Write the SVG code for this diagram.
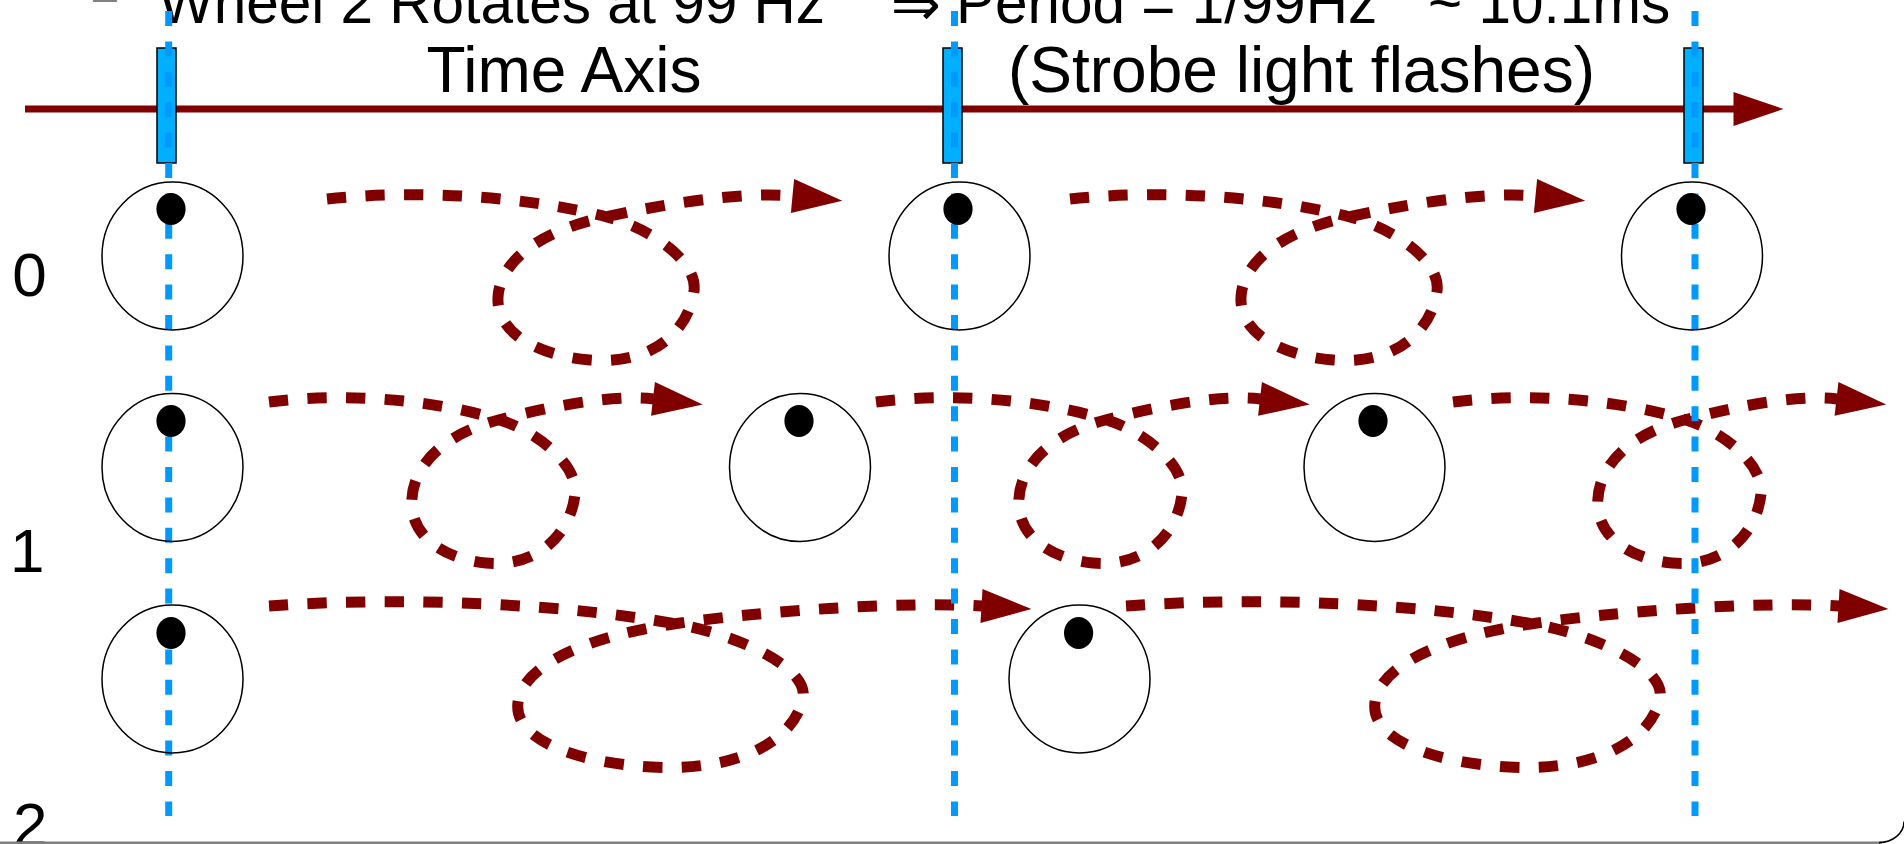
<svg xmlns="http://www.w3.org/2000/svg" width="1904" height="844" viewBox="0 0 1904 844">
  <defs>
    <style>
      .txt { font-family: "Liberation Sans", Arial, sans-serif; fill: #000; }
      .title { font-size: 58.5px; }
      .head { font-size: 64px; }
      .lbl { font-size: 62px; }
      .wheel { fill: none; stroke: #000; stroke-width: 1.5; }
      .dot { fill: #000; }
      .flow { fill: none; stroke: #800000; stroke-width: 11; stroke-dasharray: 19.3 19.3; marker-end: url(#arr); }
      .axis { fill: none; stroke: #800000; stroke-width: 7; marker-end: url(#arr); }
      .strobe { fill: none; stroke: #0099ff; stroke-width: 7; stroke-dasharray: 15 15.4; }
      .flash { fill: #00b0ff; stroke: #000; stroke-width: 1.5; }
    </style>
    <marker id="arr" markerUnits="userSpaceOnUse" markerWidth="52" markerHeight="34" refX="0.5" refY="17" orient="auto" overflow="visible">
      <path d="M0,0 L50,17 L0,34 Z" fill="#800000"/>
    </marker>
  </defs>

  <rect width="1904" height="844" fill="#fff"/>

  <!-- heading line (top clipped by the frame) -->
  <g id="heading">
    <text class="txt" x="93" y="10.5" font-size="43" style="fill:#808080">–</text>
    <text class="txt title" x="158.5" y="23">Wheel 2 Rotates at 99 Hz</text>
    <text x="916" y="25" font-family="DejaVu Sans, sans-serif" font-size="60" text-anchor="middle">⇒</text>
    <text class="txt title" x="956" y="23">Period = 1/99Hz</text>
    <text class="txt title" x="1428" y="23">~ 10.1ms</text>
  </g>

  <!-- time axis -->
  <g id="time-axis">
    <line class="axis" x1="25" y1="109" x2="1734" y2="109"/>
    <text class="txt head" x="426.5" y="92">Time Axis</text>
    <text class="txt head" x="1008" y="92">(Strobe light flashes)</text>
  </g>

  <!-- wheel motion between flashes -->
  <g id="connectors">
    <path id="c0a" class="flow" d="M327 199 C420 189,530 197,607 217 C650 228,698 261,694 291 C689 329,655 365,590 360 C540 356,496 334,498 297 C500 261,540 231,605 217 C660 205,740 191,793 196"/>
    <path id="c0b" class="flow" d="M1070 199 C1163 189,1273 197,1350 217 C1393 228,1441 261,1437 291 C1432 329,1398 365,1333 360 C1283 356,1239 334,1241 297 C1243 261,1283 231,1348 217 C1403 205,1483 191,1536 196"/>
    <path id="c1a" class="flow" d="M269 402 C345.7 392,436.5 400,500 420 C535.5 431,578.4 464,575 494 C571 532,539.6 568,486 563 C444.7 559,410 537,411.8 500 C413.4 464,444.7 434,498.4 420 C543.7 408,609.7 394,653.5 399"/>
    <path id="c1b" class="flow" d="M876 402 C952.7 392,1043.5 400,1107 420 C1142.5 431,1185.4 464,1182 494 C1178 532,1146.6 568,1093 563 C1051.7 559,1017 537,1018.8 500 C1020.4 464,1051.7 434,1105.4 420 C1150.7 408,1216.7 394,1260.5 399"/>
    <path id="c1c" class="flow" d="M1453 402 C1529.7 392,1621.5 400,1686 420 C1721.5 431,1764.4 464,1761 494 C1757 532,1725.6 568,1672 563 C1630.7 559,1596 537,1597.8 500 C1599.4 464,1630.7 434,1684.4 420 C1729.7 408,1793.2 394,1837 399"/>
    <path id="c2a" class="flow" d="M269 606 C404.3 596,564.4 604,676.4 624 C739 635,808.8 668,803 698 C795.7 736,746.2 772,651.7 767 C578.9 763,514.9 741,517.8 704 C520.7 668,578.9 638,673.5 624 C753.5 612,899 601,982 606"/>
    <path id="c2b" class="flow" d="M1126 606 C1261.3 596,1421.4 604,1533.4 624 C1596 635,1665.8 668,1660 698 C1652.7 736,1603.2 772,1508.7 767 C1435.9 763,1371.9 741,1374.8 704 C1377.7 668,1435.9 638,1530.5 624 C1610.5 612,1756 601,1839 606"/>
  </g>

  <!-- strobe flashes -->
  <g id="flash-1">
    <rect class="flash" x="157" y="48" width="19" height="115"/>
    <line class="strobe" x1="168.7" y1="11" x2="168.7" y2="816"/>
  </g>
  <g id="flash-2">
    <rect class="flash" x="943" y="48" width="19" height="115"/>
    <line class="strobe" x1="954.5" y1="11" x2="954.5" y2="816"/>
  </g>
  <g id="flash-3">
    <rect class="flash" x="1684" y="48" width="19" height="115"/>
    <line class="strobe" x1="1695" y1="11" x2="1695" y2="816"/>
  </g>

  <!-- wheels, row 0 -->
  <g id="wheel-0-1"><ellipse class="wheel" cx="172.5" cy="256" rx="70.5" ry="74"/><ellipse class="dot" cx="171" cy="209" rx="14.6" ry="16"/></g>
  <g id="wheel-0-2"><ellipse class="wheel" cx="959.5" cy="256" rx="70.5" ry="74"/><ellipse class="dot" cx="958" cy="209" rx="14.6" ry="16"/></g>
  <g id="wheel-0-3"><ellipse class="wheel" cx="1692" cy="256" rx="70.5" ry="74"/><ellipse class="dot" cx="1691" cy="209" rx="14.6" ry="16"/></g>

  <!-- wheels, row 1 -->
  <g id="wheel-1-1"><ellipse class="wheel" cx="172.5" cy="467.5" rx="70.5" ry="74"/><ellipse class="dot" cx="171" cy="421" rx="14.6" ry="16"/></g>
  <g id="wheel-1-2"><ellipse class="wheel" cx="800" cy="467.5" rx="70.5" ry="74"/><ellipse class="dot" cx="799" cy="421" rx="14.6" ry="16"/></g>
  <g id="wheel-1-3"><ellipse class="wheel" cx="1374.5" cy="467.5" rx="70.5" ry="74"/><ellipse class="dot" cx="1373" cy="421" rx="14.6" ry="16"/></g>

  <!-- wheels, row 2 -->
  <g id="wheel-2-1"><ellipse class="wheel" cx="172.5" cy="679" rx="70.5" ry="74"/><ellipse class="dot" cx="171" cy="633" rx="14.6" ry="16"/></g>
  <g id="wheel-2-2"><ellipse class="wheel" cx="1079.5" cy="679" rx="70.5" ry="74"/><ellipse class="dot" cx="1078.6" cy="633" rx="14.6" ry="16"/></g>

  <!-- row numbers -->
  <g id="row-labels">
    <text class="txt lbl" x="12.3" y="296">0</text>
    <text class="txt lbl" x="10" y="572">1</text>
    <text class="txt lbl" x="13" y="846">2</text>
  </g>

  <!-- frame edge -->
  <g id="frame">
    <line x1="0" y1="842.75" x2="1882" y2="842.75" stroke="#808080" stroke-width="2.5"/>
    <path d="M1879 842.5 A25 21 0 0 0 1904 821.5" fill="none" stroke="#000" stroke-width="1.5"/>
  </g>
</svg>
